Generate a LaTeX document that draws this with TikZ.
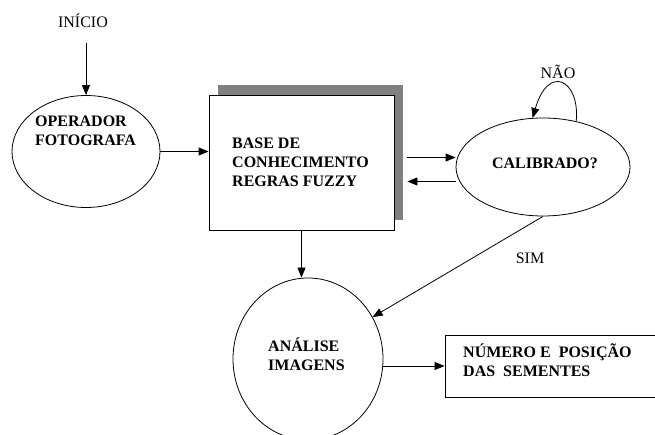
\documentclass[tikz,border=0pt]{standalone}
\usepackage{fontspec}
\setmainfont{Liberation Serif}
\usetikzlibrary{shapes.geometric,arrows.meta,shadows}

\begin{document}
\begin{tikzpicture}[x=1pt,y=-1pt,
        every node/.style={font=\fontsize{16}{19}\selectfont},
        arr/.style={line width=0.8pt, -{Triangle[length=10pt,width=8pt]}},
        txt/.style={font=\fontsize{16}{19}\selectfont\bfseries, align=left, anchor=west, inner sep=0pt},
        bubble/.style={ellipse, draw, line width=0.8pt, inner sep=0pt}]
            \useasboundingbox (0,0) rectangle (655,435);

            \node (ini) at (83,21) {INÍCIO};
            \coordinate (inibot) at ([yshift=-12pt]ini.south);
            \node[bubble, minimum width=148pt, minimum height=112pt] (op) at (86,151.5) {};
            \node[txt] (optxt) at (35,131) {OPERADOR\\FOTOGRAFA};

            \node[draw, line width=0.8pt, fill=white, minimum width=185pt, minimum height=135pt,
                drop shadow={shadow xshift=9pt, shadow yshift=10pt, fill=gray, opacity=1}] (base) at (301.5,162.5) {};
            \node[txt] (basetxt) at (232,162) {BASE DE\\CONHECIMENTO\\REGRAS FUZZY};

            \node[bubble, minimum width=174pt, minimum height=98pt] (cal) at (543,167) {};
            \node[txt, anchor=center] (caltxt) at (545,163) {CALIBRADO?};
            \node (nao) at (558,72) {NÃO};

            \node[bubble, minimum width=150pt, minimum height=162pt] (ana) at (308,359) {};
            \node[txt] (anatxt) at (268,354) {ANÁLISE\\IMAGENS};

            \node[draw, line width=0.8pt, minimum width=220pt, minimum height=62pt] (res) at (555,366) {};
            \node[txt] (restxt) at (463,360) {NÚMERO E\ \ POSIÇÃO\\DAS\ \ SEMENTES};
            \node (sim) at (530,258) {SIM};

            \draw[arr] (inibot -| op.north) -- (op.north);
            \draw[arr] (op.east) -- (op.east -| base.west);
            \draw[arr] ([xshift=13pt,yshift=5pt]base.east) -- ([yshift=5pt]base.east -| cal.west);
            \draw[arr] ([yshift=-19pt]base.east -| cal.west) -- ([xshift=13pt,yshift=-19pt]base.east);
            \draw[arr] (cal.54) .. controls +(4,-41) and +(16,-55) .. (cal.102);
            \draw[arr] (cal.south) -- (ana.33);
            \draw[arr] (base.south) -- (base.south |- ana.north);
            \draw[arr] (res.west -| ana.east) -- (res.west);

        \end{tikzpicture}
\end{document}
